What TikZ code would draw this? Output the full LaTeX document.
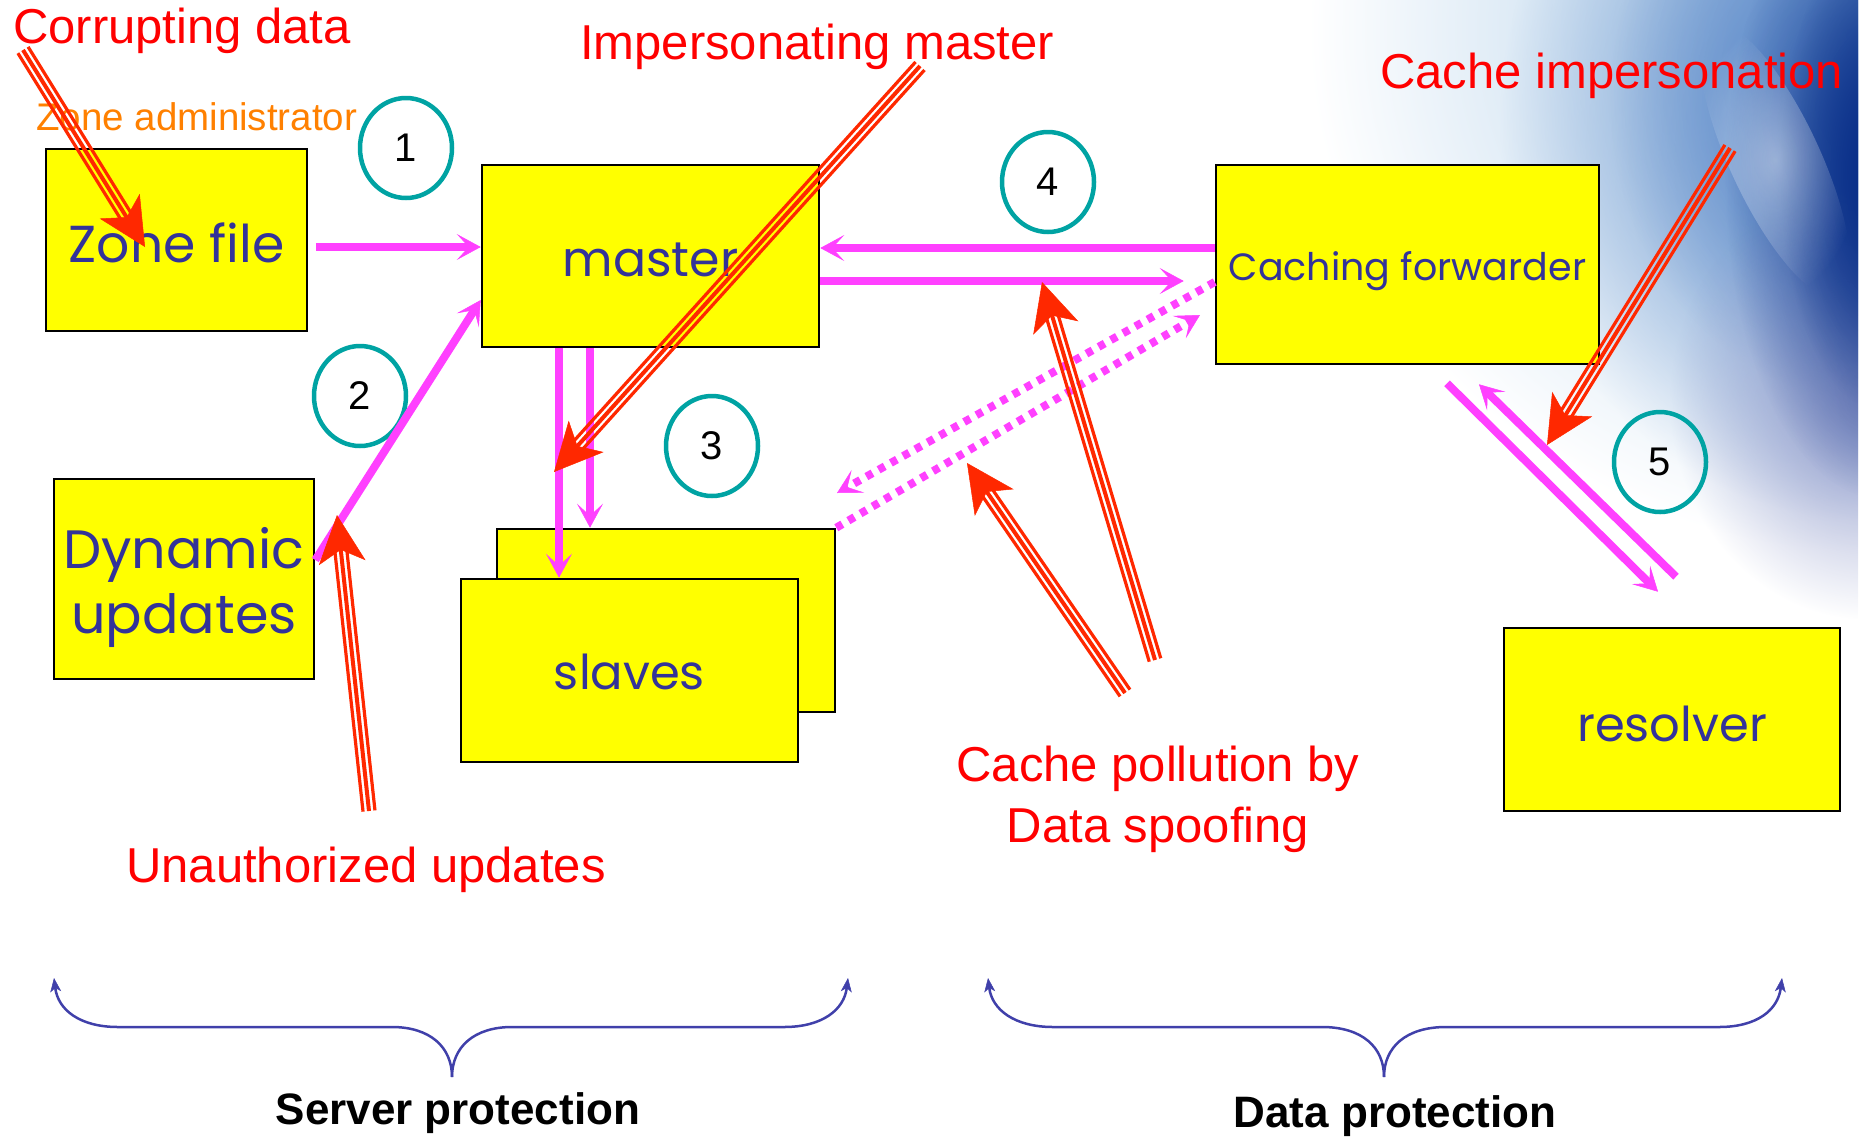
\documentclass[tikz,border=0pt]{standalone}
\usepackage{fontspec}
\setmainfont{Liberation Sans}
\newfontfamily\gothic{Poppins}
\usetikzlibrary{arrows.meta,shapes.geometric,calc,fadings}

\definecolor{boxyellow}{RGB}{255,255,0}
\definecolor{boxtext}{RGB}{51,51,153}
\definecolor{flowmag}{RGB}{255,64,255}
\definecolor{atkred}{RGB}{255,40,0}
\definecolor{labred}{RGB}{255,0,0}
\definecolor{admorange}{RGB}{255,128,0}
\definecolor{ringteal}{RGB}{0,163,163}
\definecolor{bracecol}{RGB}{64,64,170}
\definecolor{skylight}{RGB}{165,200,230}
\definecolor{skymid}{RGB}{90,135,200}
\definecolor{skydeep}{RGB}{8,45,135}
\definecolor{skylav}{RGB}{140,150,200}

\tikzfading[name=softedge, inner color=transparent!0, outer color=transparent!100]

% triple-rail attack arrow from #1 to the tip #2
\newcommand\attackarrow[2]{%
  \coordinate (atk-e) at ($(#2)!33pt!(#1)$);
  \draw[atkcore] (#1) -- (atk-e);
  \draw[atkrail] ($(#1)!6pt!90:(#2)$) -- ($(atk-e)!6pt!-90:(#1)$);
  \draw[atkrail] ($(#1)!6pt!-90:(#2)$) -- ($(atk-e)!6pt!90:(#1)$);
  \draw[atkhead] (#1) -- (#2);
}

\begin{document}
\begin{tikzpicture}[x=1pt,y=-1pt,
  box/.style={draw=black, line width=2.6pt, fill=boxyellow, text=boxtext,
    inner sep=0pt, text depth=0pt, font=\gothic\fontsize{52}{62}\selectfont},
  ring/.style={ellipse, draw=ringteal, line width=4.5pt, minimum width=92pt,
    minimum height=100pt, inner sep=0pt, font=\fontsize{40}{40}\selectfont},
  flow/.style={draw=flowmag, line width=8pt,
    -{Stealth[length=24pt,width=26pt,inset=12pt,line width=0.5pt 0 0]}},
  dotflow/.style={flow, dash pattern=on 7pt off 7pt},
  redlabel/.style={text=labred, font=\fontsize{49}{61}\selectfont, inner sep=0pt},
  atkcore/.style={draw=atkred, line width=4pt},
  atkrail/.style={draw=atkred, line width=3.2pt},
  atkhead/.style={draw=atkred, line width=0.5pt,
    -{Stealth[length=48pt,width=47pt,inset=13pt,line width=0.5pt 0 0]}},
  bracepath/.style={draw=bracecol, line width=2.5pt,
    -{Stealth[length=14pt,width=11pt,inset=4pt,line width=0.5pt 0 0]}},
]
\useasboundingbox (0,0) rectangle (1870,1138);

% sky backdrop in the upper right corner
\begin{scope}
  \clip (1100,0) rectangle (1858,720);
  \fill[skylight, path fading=softedge] (1870,30) ellipse (560 and 520);
  \fill[skymid, path fading=softedge] (1870,120) ellipse (370 and 400);
  \fill[skymid, path fading=softedge] (1870,100) ellipse (260 and 300);
  \fill[skylav, path fading=softedge] (1870,400) ellipse (200 and 220);
  \fill[skydeep, path fading=softedge] (1885,180) ellipse (160 and 320);
  \fill[skydeep, path fading=softedge] (1880,170) ellipse (100 and 240);
  \fill[white, opacity=0.45, path fading=softedge, rotate around={-65:(1775,160)}]
    (1775,160) ellipse (150 and 45);
\end{scope}

% servers and data stores
\node[box, minimum width=261pt, minimum height=182pt, text height=44pt] (zone) at (176.5,240) {Zone file};
\node[box, minimum width=337pt, minimum height=182pt, text height=40pt,
      font=\gothic\fontsize{49}{58}\selectfont] (master) at (650.5,256) {master};
\node[box, minimum width=260pt, minimum height=200pt, text height=0pt, text depth=22pt,
      font=\gothic\fontsize{54}{65}\selectfont] (dyn) at (184,579)
      {\begin{tabular}[t]{@{}c@{}}Dynamic\\updates\end{tabular}};
\node[box, minimum width=338pt, minimum height=183pt] (slaveB) at (666,620.5) {};
\node[box, minimum width=337pt, minimum height=183pt, text height=37pt,
      font=\gothic\fontsize{48}{56}\selectfont] (slaveF) at (629.5,670.5) {slaves};
\node[box, minimum width=383pt, minimum height=199pt, text height=31pt,
      font=\gothic\fontsize{38}{44}\selectfont] (fwd) at (1407.5,264.5) {Caching forwarder};
\node[box, minimum width=336pt, minimum height=183pt, text height=43pt,
      font=\gothic\fontsize{48}{56}\selectfont] (res) at (1672,719.5) {resolver};

% numbered threat points
\node[ring] (r1) at (406,148) {1};
\node[ring] (r2) at (360,396) {2};
\node[ring] (r3) at (712,446) {3};
\node[ring] (r4) at (1048,182) {4};
\node[ring] (r5) at (1660,462) {5};

% data flows
\coordinate (m1) at ([shift={(-91.5,0)}]master.south);
\coordinate (m2) at ([shift={(-60.5,0)}]master.south);
\coordinate (pollA) at (837,493);
\coordinate (pollB) at (1200,315);
\coordinate (q1) at ([shift={(39.5,18)}]fwd.south);
\coordinate (q2) at ([shift={(-14,-35)}]res.north);
\coordinate (a1) at ([shift={(4,-50)}]res.north);
\coordinate (a2) at ([shift={(71.5,19)}]fwd.south);

\draw[flow] ([shift={(8,7)}]zone.east) -- ([shift={(0,-9)}]master.west);
\draw[flow] ([shift={(0,-19)}]dyn.east) -- ([shift={(0,44)}]master.west);
\draw[flow] (m1) -- (m1 |- slaveF.north);
\draw[flow] (m2) -- (m2 |- slaveB.north);
\draw[flow] ([shift={(0,-16.5)}]fwd.west) -- ([shift={(0,-8)}]master.east);
\draw[flow] ([shift={(0,25)}]master.east) -- ([shift={(-31,16.5)}]fwd.west);
\draw[dotflow] ([shift={(0,17.5)}]fwd.west) -- (pollA);
\draw[dotflow] (slaveB.north east) -- (pollB);
\draw[flow] (q1) -- (q2);
\draw[flow] (a1) -- (a2);

% labels
\node[redlabel, anchor=base west] (lcorrupt) at (13,43) {Corrupting data};
\node[anchor=base west, inner sep=0pt, text=admorange,
      font=\fontsize{38.5}{40}\selectfont] (ladmin) at (36,130) {Zone administrator};
\node[redlabel, anchor=base west] (limpm) at (580,59) {Impersonating master};
\node[redlabel, anchor=base west] (lcimp) at (1380,88) {Cache impersonation};
\node[redlabel, anchor=base west] (lunauth) at (126,882) {Unauthorized updates};
\node[redlabel, anchor=base] (lpoll1) at (1158,781) {Cache pollution by};
\node[redlabel, anchor=base] (lpoll2) at (1158,842) {Data spoofing};

% attacks
\coordinate (k1s) at (23,50);     \coordinate (k1e) at (145,247);
\coordinate (k2s) at (369,811);   \coordinate (k2e) at (337,515);
\coordinate (k3s) at (920,66);    \coordinate (k3e) at (554,472);
\coordinate (k4s) at (1155,660);  \coordinate (k4e) at (1042,282);
\coordinate (k5s) at (1125,693);  \coordinate (k5e) at (967,463);
\coordinate (k6s) at (1730,148);  \coordinate (k6e) at (1547,445);
\attackarrow{k1s}{k1e}
\attackarrow{k2s}{k2e}
\attackarrow{k3s}{k3e}
\attackarrow{k4s}{k4e}
\attackarrow{k5s}{k5e}
\attackarrow{k6s}{k6e}

% grouping braces
\draw[bracepath] (452,1077) .. controls (452,1047) and (430,1027) .. (392,1027)
  -- (118,1027) .. controls (80,1027) and (58,1010) .. (54,978);
\draw[bracepath] (452,1077) .. controls (452,1047) and (474,1027) .. (512,1027)
  -- (784,1027) .. controls (822,1027) and (844,1010) .. (848,978);
\draw[bracepath] (1384,1077) .. controls (1384,1047) and (1362,1027) .. (1322,1027)
  -- (1053,1027) .. controls (1015,1027) and (992,1010) .. (988,978);
\draw[bracepath] (1384,1077) .. controls (1384,1047) and (1406,1027) .. (1446,1027)
  -- (1719,1027) .. controls (1757,1027) and (1778,1010) .. (1782,978);

\node[anchor=base, inner sep=0pt, font=\bfseries\fontsize{44}{44}\selectfont]
  (lserver) at (458,1124) {Server protection};
\node[anchor=base, inner sep=0pt, font=\bfseries\fontsize{44}{44}\selectfont]
  (ldata) at (1395,1127) {Data protection};
\end{tikzpicture}
\end{document}
